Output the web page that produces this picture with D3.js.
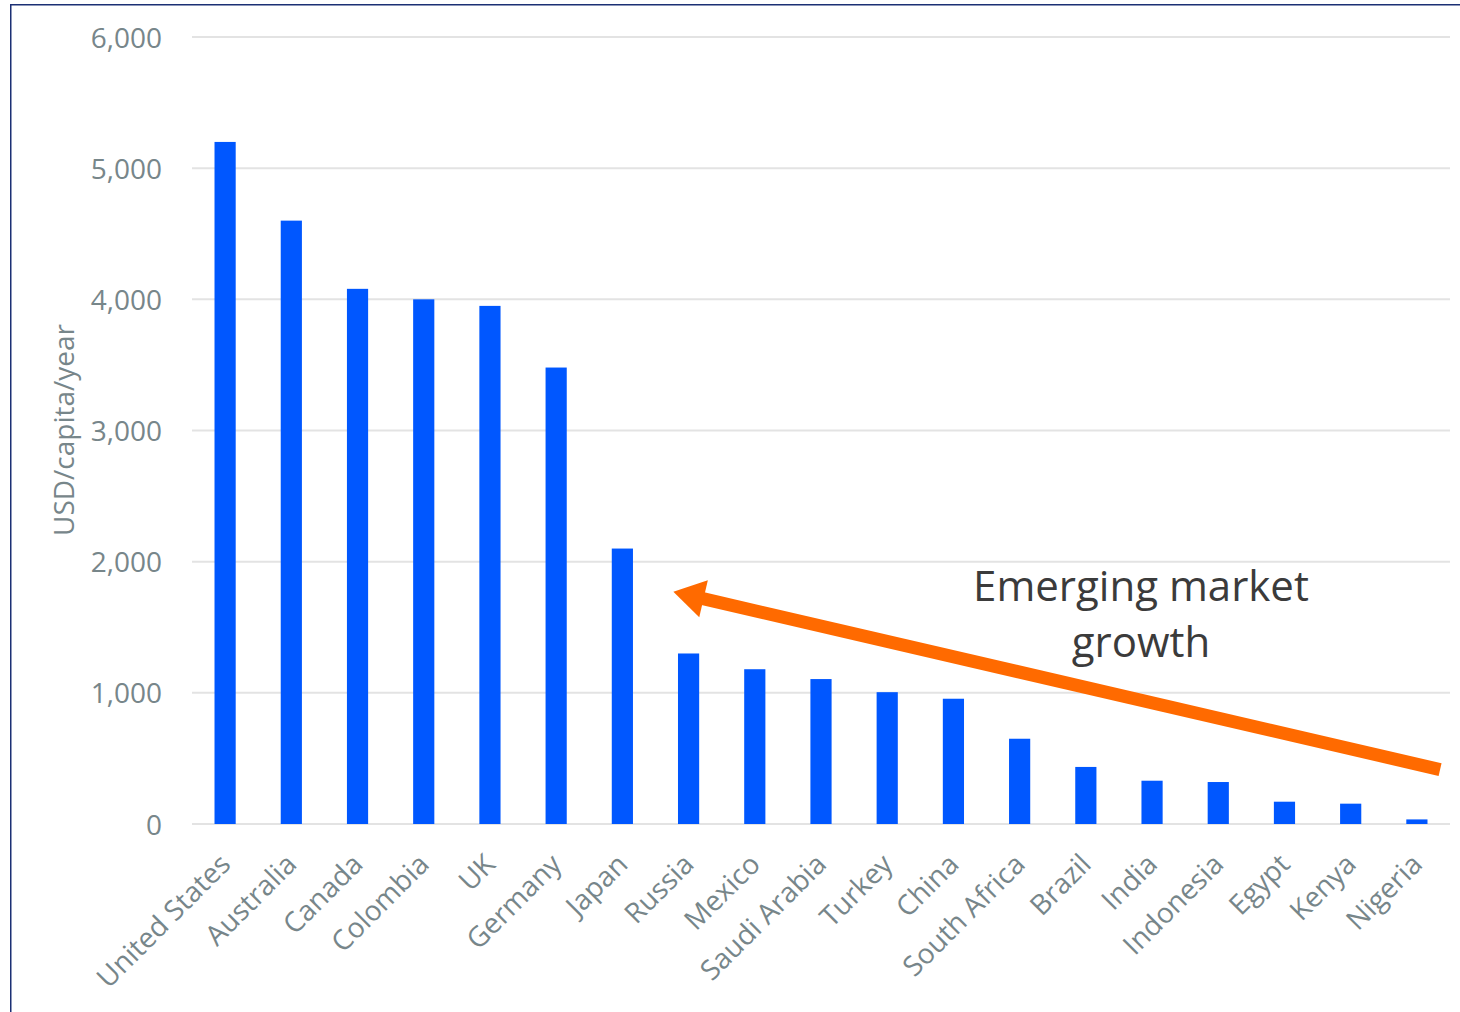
<!DOCTYPE html>
<html>
<head>
<meta charset="utf-8">
<script src="https://cdn.jsdelivr.net/npm/d3@7"></script>
<style>
  html, body { margin: 0; padding: 0; background: #fff; }
  svg { display: block; }
</style>
</head>
<body>
<svg id="chart" width="1460" height="1012"></svg>
<script>
const categories = ["United States","Australia","Canada","Colombia","UK","Germany","Japan","Russia","Mexico","Saudi Arabia","Turkey","China","South Africa","Brazil","India","Indonesia","Egypt","Kenya","Nigeria"];
const values = [5200, 4600, 4080, 4000, 3950, 3480, 2100, 1300, 1180, 1105, 1005, 955, 650, 435, 330, 320, 170, 155, 35];
const yTicks = [0, 1000, 2000, 3000, 4000, 5000, 6000];
const yTitle = "USD/capita/year";
const annotationLines = ["Emerging market", "growth"];
// arrow annotation in data space: [category, band offset (in steps), value]
const arrowFrom = ["Nigeria", 0.35, 415];
const arrowTo = ["Russia", -0.23, 1770];

const svg = d3.select("#chart");
const font = "'Open Sans', sans-serif";

const x = d3.scaleBand().domain(categories).range([192, 1450]).paddingInner(0.68).paddingOuter(0.34);
const y = d3.scaleLinear().domain([0, 6000]).range([824, 37]);

// frame border
svg.append("rect").attr("x", 10.75).attr("y", 4.75).attr("width", 1470).attr("height", 1030)
  .attr("fill", "none").attr("stroke", "#1b2f74").attr("stroke-width", 1.5);

// gridlines
svg.append("g").selectAll("line").data(yTicks).join("line")
  .attr("x1", 192).attr("x2", 1450)
  .attr("y1", d => y(d)).attr("y2", d => y(d))
  .attr("stroke", "#e3e3e3").attr("stroke-width", 2);

// y axis labels
const yAxis = d3.axisLeft(y).tickValues(yTicks).tickFormat(d3.format(",")).tickSize(0).tickPadding(0);
const gy = svg.append("g").attr("transform", "translate(162,0)").call(yAxis);
gy.select(".domain").remove();
gy.selectAll("text").attr("font-family", font).attr("font-size", 28).attr("fill", "#77868a").attr("dy", "0.36em");

// y title
svg.append("text").attr("transform", "translate(74,430) rotate(-90)")
  .attr("text-anchor", "middle").attr("font-family", font).attr("font-size", 28)
  .attr("fill", "#77868a").text(yTitle);

// bars
svg.append("g").selectAll("rect").data(categories).join("rect")
  .attr("x", d => x(d)).attr("width", x.bandwidth())
  .attr("y", (d, i) => y(values[i])).attr("height", (d, i) => y(0) - y(values[i]))
  .attr("fill", "#0057ff");

// x axis labels
const xAxis = d3.axisBottom(x).tickSize(0).tickPadding(0);
const gx = svg.append("g").attr("transform", "translate(0,824)").call(xAxis);
gx.select(".domain").remove();
gx.selectAll("text")
  .attr("font-family", font).attr("font-size", 28).attr("fill", "#77868a")
  .attr("text-anchor", "end").attr("dy", 0).attr("y", 0)
  .attr("transform", "translate(7,42) rotate(-45)");

// arrow
const ax = (a) => x(a[0]) + x.bandwidth() / 2 + a[1] * x.step();
const x1 = ax(arrowFrom), y1 = y(arrowFrom[2]);
const x2 = ax(arrowTo), y2 = y(arrowTo[2]);
const ang = Math.atan2(y2 - y1, x2 - x1);
const headLen = 31, headHalf = 19;
const ux = Math.cos(ang), uy = Math.sin(ang);
const px = -uy, py = ux;
const bx = x2 - ux * headLen, by = y2 - uy * headLen;
svg.append("line").attr("x1", x1).attr("y1", y1).attr("x2", bx + ux * 4).attr("y2", by + uy * 4)
  .attr("stroke", "#ff6a00").attr("stroke-width", 13);
svg.append("path")
  .attr("d", `M${x2},${y2} L${bx + px * headHalf},${by + py * headHalf} L${bx - px * headHalf},${by - py * headHalf} Z`)
  .attr("fill", "#ff6a00");

// annotation text
svg.append("g").selectAll("text").data(annotationLines).join("text")
  .attr("x", 1141).attr("y", (d, i) => 601 + i * 56)
  .attr("text-anchor", "middle").attr("font-family", font).attr("font-size", 42)
  .attr("fill", "#3b3b3b").text(d => d);
</script>
</body>
</html>
